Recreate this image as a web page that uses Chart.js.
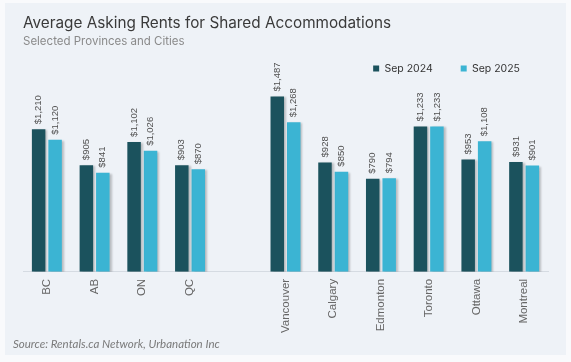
<!DOCTYPE html>
<html>
<head>
<meta charset="utf-8">
<script src="https://cdn.jsdelivr.net/npm/chart.js@4"></script>
<style>
  html, body { margin: 0; padding: 0; background: #f9fafc; }
  #panel { position: absolute; left: 5px; top: 3px; width: 561px; height: 352px; background: #eef2f7; }
</style>
</head>
<body>
<div id="panel"><canvas id="grafikSewa"></canvas></div>
<script>
// Data
const categories = ['BC', 'AB', 'ON', 'QC', '', 'Vancouver', 'Calgary', 'Edmonton', 'Toronto', 'Ottawa', 'Montreal'];
const sep2024 = [1210, 905, 1102, 903, null, 1487, 928, 790, 1233, 953, 931];
const sep2025 = [1120, 841, 1026, 870, null, 1268, 850, 794, 1233, 1108, 901];
const seriesNames = ['Sep 2024', 'Sep 2025'];

// bayangan tipis di batang
const barShadow = {
    id: 'barShadow',
    beforeDatasetsDraw(chart) {
        const c = chart.ctx;
        c.save();
        c.shadowColor = 'rgba(0,0,0,0.22)';
        c.shadowOffsetX = 2;
        c.shadowOffsetY = 1;
        c.shadowBlur = 2;
    },
    afterDatasetsDraw(chart) {
        chart.ctx.restore();
    }
};

// label nilai diputar di atas batang
const valueLabels = {
    id: 'valueLabels',
    afterDraw(chart) {
        const c = chart.ctx;
        c.save();
        c.font = '9.5px "Liberation Sans", Arial, sans-serif';
        c.fillStyle = '#505050';
        c.textAlign = 'left';
        c.textBaseline = 'middle';
        chart.data.datasets.forEach((ds, i) => {
            chart.getDatasetMeta(i).data.forEach((bar, j) => {
                const v = ds.data[j];
                if (v == null) return;
                c.save();
                c.translate(bar.x, bar.y - 5);
                c.rotate(-Math.PI / 2);
                c.fillText('$' + v.toLocaleString('en-US'), 0, 0);
                c.restore();
            });
        });
        c.restore();
    }
};

// sumber data di bawah
const sourceNote = {
    id: 'sourceNote',
    afterDraw(chart) {
        const c = chart.ctx;
        c.save();
        c.font = 'italic 11.5px Lato, sans-serif';
        c.fillStyle = '#7a7a7a';
        c.textAlign = 'left';
        c.textBaseline = 'middle';
        c.fillText('Source: Rentals.ca Network, Urbanation Inc', 8, 341);
        c.restore();
    }
};

const ctxSewa = document.getElementById('grafikSewa').getContext('2d');
const grafikSewa = new Chart(ctxSewa, {
    type: 'bar',
    data: {
        labels: categories,
        datasets: [{
            label: seriesNames[0],
            data: sep2024,
            backgroundColor: '#1b525d'
        }, {
            label: seriesNames[1],
            data: sep2025,
            backgroundColor: '#3bb4d3'
        }]
    },
    options: {
        responsive: true,
        maintainAspectRatio: false,
        animation: false,
        categoryPercentage: 0.69,
        barPercentage: 0.82,
        layout: {
            padding: { left: 18, right: 18, top: 0, bottom: 15 }
        },
        plugins: {
            title: {
                display: true,
                text: 'Average Asking Rents for Shared Accommodations',
                align: 'start',
                color: '#3a3a3a',
                font: { family: 'Inter', size: 15.3, weight: 'normal' },
                padding: { top: 11, bottom: 0 }
            },
            subtitle: {
                display: true,
                text: 'Selected Provinces and Cities',
                align: 'start',
                color: '#8a8a8a',
                font: { family: 'Inter', size: 11.5 },
                padding: { top: 2, bottom: -12.9 }
            },
            legend: {
                position: 'top',
                align: 'end',
                labels: {
                    boxWidth: 6,
                    boxHeight: 6,
                    padding: 28,
                    color: '#333',
                    font: { family: 'Inter', size: 10.5 }
                }
            },
            tooltip: { enabled: false }
        },
        scales: {
            x: {
                grid: { display: false, drawTicks: false },
                border: { display: true, color: '#d5dbe2' },
                ticks: {
                    minRotation: 90,
                    maxRotation: 90,
                    padding: 7,
                    color: '#666',
                    font: { family: '"Liberation Sans", Arial, sans-serif', size: 11.5 }
                }
            },
            y: {
                display: false,
                beginAtZero: true,
                max: 1595
            }
        }
    },
    plugins: [barShadow, valueLabels, sourceNote]
});
</script>
</body>
</html>
